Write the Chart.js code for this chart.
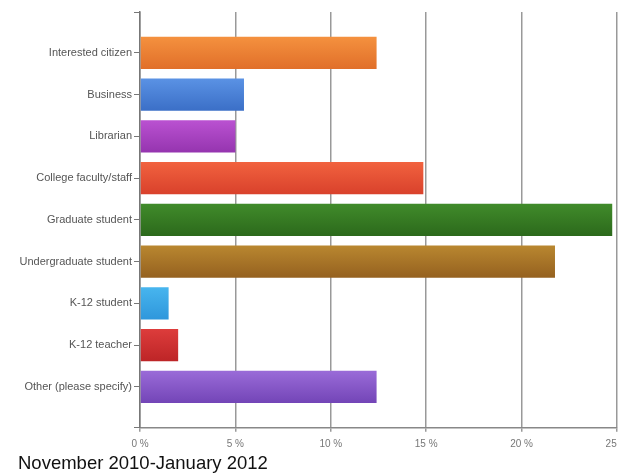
<!DOCTYPE html>
<html>
<head>
<meta charset="utf-8">
<script src="https://cdn.jsdelivr.net/npm/chart.js@4"></script>
<style>
  html, body { margin: 0; padding: 0; background: #fff; overflow: hidden; }
  #wrap { width: 618px; height: 475px; }
</style>
</head>
<body>
<div id="wrap"><canvas id="barChart" width="618" height="475"></canvas></div>
<script>
// respondents by role, Nov 2010 - Jan 2012 (percent)
const categories = [
  'Interested citizen',
  'Business',
  'Librarian',
  'College faculty/staff',
  'Graduate student',
  'Undergraduate student',
  'K-12 student',
  'K-12 teacher',
  'Other (please specify)'
];
const shares = [12.4, 5.45, 5.0, 14.85, 24.75, 21.75, 1.5, 2.0, 12.4];
const xTicks = [0, 5, 10, 15, 20, 25];

// top / bottom shades of each bar
const topColors = ['#f5923f', '#5b93e5', '#bb52d2', '#f2633f', '#418c2b', '#ba8830', '#48b6ef', '#de3d3c', '#9b6cd9'];
const bottomColors = ['#e06e29', '#3a6ec6', '#9434ae', '#d8402b', '#2b681b', '#94601f', '#2e96db', '#bc2426', '#7244b6'];

function barFill(ctx) {
  const chart = ctx.chart;
  const i = ctx.dataIndex;
  if (!chart.chartArea || i === undefined) return topColors[i] || '#999';
  const y = chart.scales.y.getPixelForValue(i);
  const g = chart.ctx.createLinearGradient(0, y - 17, 0, y + 17);
  g.addColorStop(0, topColors[i]);
  g.addColorStop(1, bottomColors[i]);
  return g;
}

const ctx = document.getElementById('barChart');
const chart = new Chart(ctx, {
  type: 'bar',
  data: {
    datasets: [{
      data: shares.map((v, i) => ({ x: v, y: i })),
      backgroundColor: barFill,
      borderWidth: 0,
      categoryPercentage: 1,
      barPercentage: 0.79
    }]
  },
  options: {
    indexAxis: 'y',
    responsive: false,
    animation: false,
    layout: { padding: { left: 18, top: 12, right: 1, bottom: 0 } },
    plugins: {
      legend: { display: false },
      tooltip: { enabled: false },
      title: {
        display: true,
        text: 'November 2010-January 2012',
        position: 'bottom',
        align: 'start',
        color: '#111',
        font: { family: 'Liberation Sans', size: 18.5, weight: 'normal', lineHeight: 1.2 },
        padding: { top: 0, bottom: 0 }
      }
    },
    scales: {
      x: {
        type: 'linear',
        min: 0,
        max: 25,
        afterBuildTicks: s => { s.ticks = xTicks.map(v => ({ value: v })); },
        afterFit: s => { s.height = 25; s.paddingLeft = 0; s.paddingRight = 0; },
        ticks: {
          color: '#777',
          font: { family: 'Liberation Sans', size: 10 },
          padding: 6,
          callback: v => v + ' %'
        },
        grid: { color: '#999', lineWidth: 1.5, tickLength: 4 },
        border: { color: '#888', width: 1.5 }
      },
      y: {
        type: 'linear',
        reverse: true,
        offset: false,
        min: -0.98,
        max: 8.98,
        afterBuildTicks: s => {
          s.ticks = [-0.98].concat(categories.map((c, i) => i), [8.98]).map(v => ({ value: v }));
        },
        afterFit: s => { s.width = 122; },
        ticks: {
          color: '#555',
          font: { family: 'Liberation Sans', size: 11 },
          padding: 2,
          autoSkip: false,
          callback: v => Number.isInteger(v) ? categories[v] : ''
        },
        grid: { offset: false, drawOnChartArea: false, color: '#777', lineWidth: 1, tickLength: 6 },
        border: { color: '#777', width: 1.5 }
      }
    }
  }
});
</script>
</body>
</html>
